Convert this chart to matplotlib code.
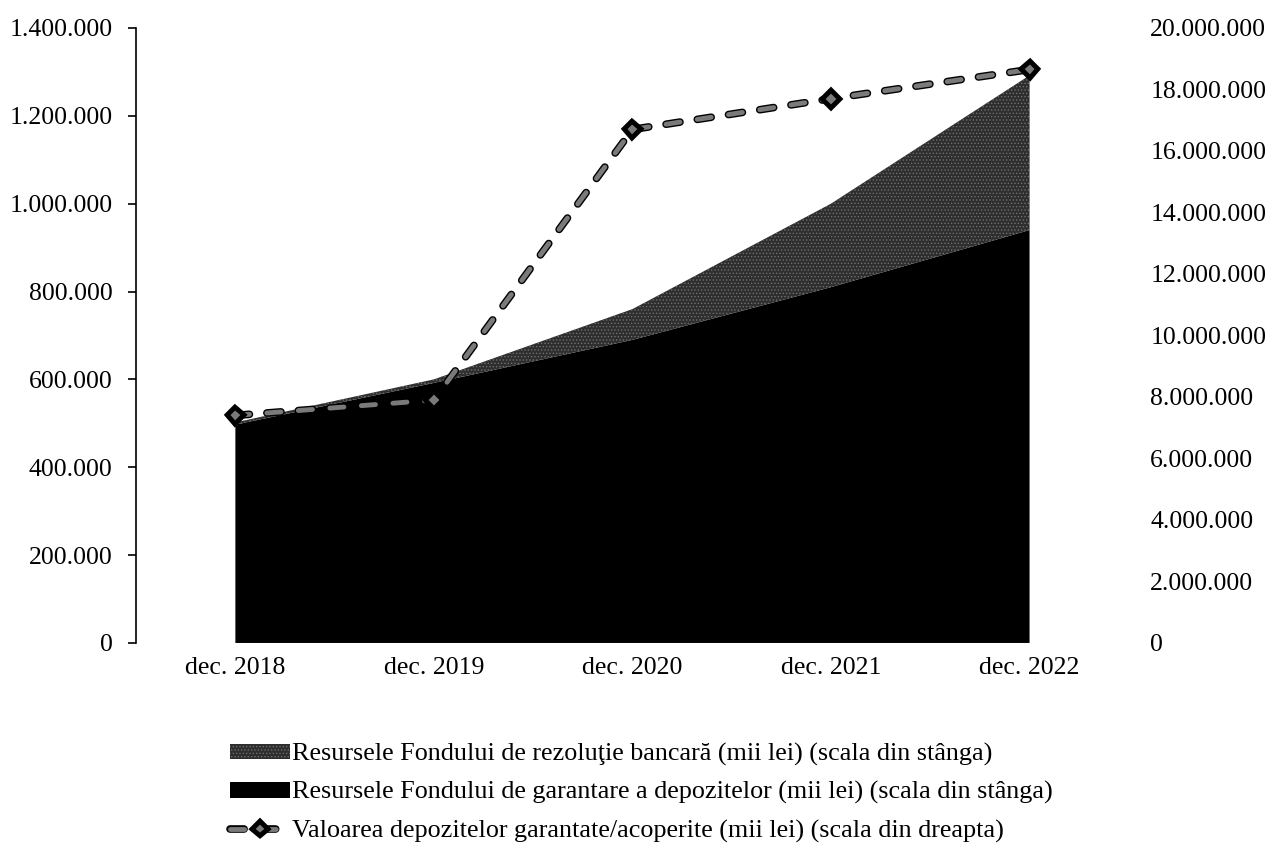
import numpy as np
import matplotlib.pyplot as plt
import matplotlib.patheffects as pe
from matplotlib.ticker import FuncFormatter
from matplotlib.lines import Line2D
from matplotlib.patches import Patch

plt.rcParams["font.family"] = ["Liberation Serif", "DejaVu Serif"]
plt.rcParams["hatch.linewidth"] = 0.6

# date
ani = ["dec. 2018", "dec. 2019", "dec. 2020", "dec. 2021", "dec. 2022"]
fond_garantare = [497000, 592000, 690000, 810000, 940000]
fond_rezolutie = [5000, 8000, 70000, 190000, 352000]
depozite_garantate = [7400000, 7900000, 16700000, 17700000, 18650000]


def format_puncte(v, pos):
    return f"{int(round(v)):,}".replace(",", ".")


fig = plt.figure(figsize=(12.72, 8.55), dpi=100)
ax = fig.add_axes([0.107, 0.248, 0.782, 0.7193])
x = np.arange(len(ani))

zone = ax.stackplot(x, fond_garantare, fond_rezolutie,
                    colors=["#000000", "#2e2e2e"], linewidth=0)
zone[1].set_hatch(".....")
zone[1].set_edgecolor("#707070")
zone[1].set_linewidth(0)

ax.set_xlim(-0.5, 4.51)
ax.set_ylim(0, 1400000)
ax.set_yticks(np.arange(0, 1400001, 200000))
ax.yaxis.set_major_formatter(FuncFormatter(format_puncte))
ax.set_xticks(x)
ax.set_xticklabels(ani)
ax.tick_params(axis="x", length=0, labelsize=18.5, pad=10)
ax.tick_params(axis="y", length=6, width=1.2, labelsize=18.5, pad=11)
ax.spines["left"].set_linewidth(1.2)
for s in ["top", "right", "bottom"]:
    ax.spines[s].set_visible(False)

stil_linie = dict(color="#7a7a7a", linewidth=3.5, linestyle=(0, (2.9, 3.6)),
                  dash_capstyle="round", marker="D", markerfacecolor="#7a7a7a",
                  markeredgecolor="black", markeredgewidth=1.6,
                  path_effects=[pe.Stroke(linewidth=5.5, foreground="black"), pe.Normal()])

ax2 = ax.twinx()
ax2.plot(x, depozite_garantate, markersize=7, **stil_linie)
ax2.set_ylim(0, 20000000)
ax2.set_yticks(np.arange(0, 20000001, 2000000))
ax2.yaxis.set_major_formatter(FuncFormatter(format_puncte))
ax2.tick_params(axis="y", length=0, labelsize=18.5, pad=14)
for s in ["top", "right", "bottom", "left"]:
    ax2.spines[s].set_visible(False)

handles = [
    Patch(facecolor="#2e2e2e", edgecolor="#707070", hatch=".....", linewidth=0),
    Patch(facecolor="#000000", edgecolor="none"),
    Line2D([0], [0], markersize=6, **stil_linie),
]
labels = [
    "Resursele Fondului de rezoluţie bancară (mii lei) (scala din stânga)",
    "Resursele Fondului de garantare a depozitelor (mii lei) (scala din stânga)",
    "Valoarea depozitelor garantate/acoperite (mii lei) (scala din dreapta)",
]
fig.legend(handles, labels, loc="upper left", bbox_to_anchor=(0.181, 0.131),
           frameon=False, fontsize=18.8, handlelength=2.3, handleheight=0.55,
           handletextpad=0.08, labelspacing=0.58, borderaxespad=0, borderpad=0)

fig.savefig("out.png", dpi=100)
